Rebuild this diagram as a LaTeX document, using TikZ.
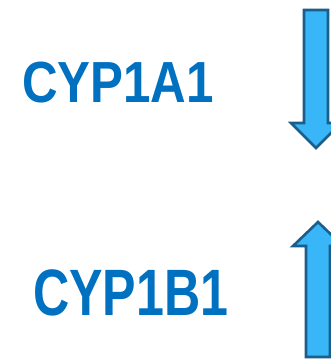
\documentclass[tikz,border=0pt]{standalone}
\usepackage{fontspec}
\setmainfont{Liberation Sans}
\usetikzlibrary{calc}
\definecolor{genecol}{HTML}{0070C0}
\definecolor{arrowfill}{HTML}{38B6F8}
\definecolor{arrowline}{HTML}{1B5E8A}
\tikzset{
  genelabel/.style={inner sep=0pt,anchor=base west,text=genecol,font=\bfseries},
  blockarrow/.style={fill=arrowfill,draw=arrowline,line width=2.6pt,line join=miter}
}
\begin{document}
\begin{tikzpicture}[x=1pt,y=1pt,line cap=round,line join=round]
  \useasboundingbox (0,0) rectangle (331,359);
  \clip (0,0) rectangle (331,359);
  % down arrow
  \coordinate (dA) at (316,349);
  \coordinate (dT) at (316,211);
  \draw[blockarrow] ($(dA)+(-12,0)$) -- ($(dA)+(12,0)$) -- ($(dT)+(12,25)$) -- ($(dT)+(25,25)$)
    -- (dT) -- ($(dT)+(-25,25)$) -- ($(dT)+(-12,25)$) -- cycle;
  % up arrow
  \coordinate (uA) at (318,2);
  \coordinate (uT) at (318,137);
  \draw[blockarrow] ($(uA)+(-12,0)$) -- ($(uA)+(12,0)$) -- ($(uT)+(12,-24)$) -- ($(uT)+(25,-24)$)
    -- (uT) -- ($(uT)+(-25,-24)$) -- ($(uT)+(-12,-24)$) -- cycle;
  \node[genelabel] (cypa) at (22,256)
    {\scalebox{0.85}[1]{\fontsize{58}{58}\selectfont CYP1A1}};
  \node[genelabel] (cypb) at (33,43)
    {\scalebox{0.765}[1]{\fontsize{65.6}{66}\selectfont CYP1B1}};
\end{tikzpicture}
\end{document}
